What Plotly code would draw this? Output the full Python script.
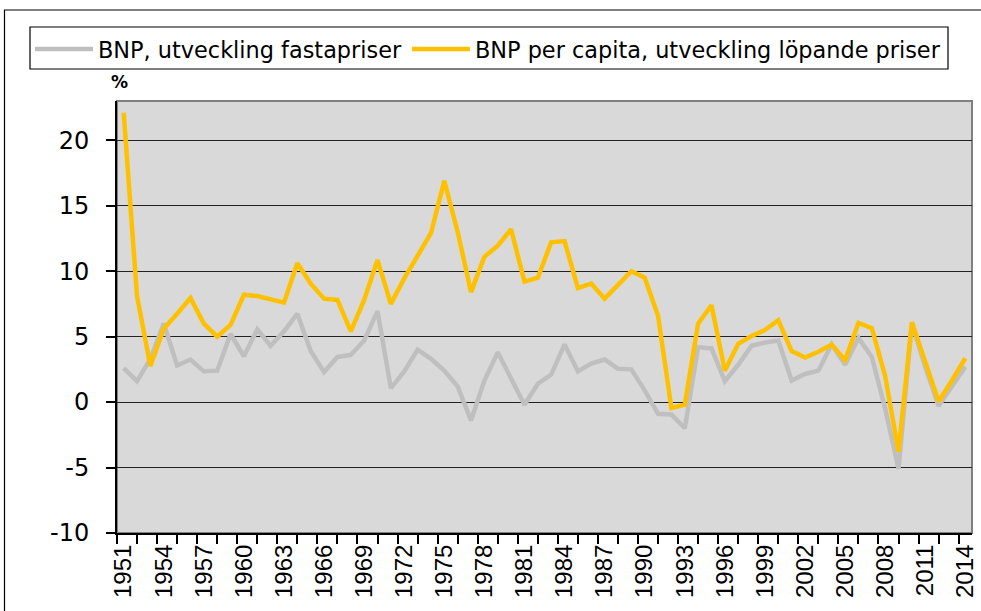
import plotly.graph_objects as go

years = list(range(1951, 2015))

bnp_fasta = [2.6, 1.6, 3.3, 6.0, 2.8, 3.25, 2.35, 2.4, 5.2, 3.5,
             5.55, 4.3, 5.4, 6.75, 3.9, 2.3, 3.45, 3.6, 4.7, 6.95,
             1.07, 2.35, 4.0, 3.3, 2.4, 1.2, -1.4, 1.65, 3.8, 1.8,
             -0.2, 1.4, 2.1, 4.4, 2.35, 2.95, 3.25, 2.55, 2.5, 0.9,
             -0.9, -0.95, -2.0, 4.2, 4.1, 1.6, 2.85, 4.3, 4.55, 4.7,
             1.65, 2.15, 2.4, 4.4, 2.85, 4.9, 3.45, -0.5, -5.1, 6.0,
             2.7, -0.3, 1.2, 2.7]

bnp_capita = [22.1, 8.1, 2.75, 5.6, 6.75, 7.95, 6.0, 5.0, 5.9, 8.2,
              8.1, 7.85, 7.6, 10.6, 9.05, 7.9, 7.8, 5.4, 7.8, 10.85,
              7.5, 9.45, 11.2, 12.9, 16.9, 13.0, 8.4, 11.1, 11.95, 13.2,
              9.2, 9.5, 12.2, 12.3, 8.7, 9.05, 7.9, 8.9, 10.0, 9.5,
              6.6, -0.45, -0.2, 6.0, 7.4, 2.4, 4.45, 5.05, 5.5, 6.25,
              3.9, 3.4, 3.85, 4.4, 3.2, 6.05, 5.65, 2.0, -3.8, 6.1,
              3.05, 0.05, 1.65, 3.35]

label_years = list(range(1951, 2015, 3))
y_ticks = [-10, -5, 0, 5, 10, 15, 20]
y_labels = ["-10", "-5", "0", "5", "10", "15", "20"]

FONT = "Liberation Sans, Arial, sans-serif"
WIDE = "DejaVu Sans, Verdana, sans-serif"

fig = go.Figure()
fig.add_trace(go.Scatter(x=years, y=bnp_fasta, mode="lines",
                         name="BNP, utveckling fastapriser",
                         line=dict(color="#BFBFBF", width=4.5)))
fig.add_trace(go.Scatter(x=years, y=bnp_capita, mode="lines",
                         name="BNP per capita, utveckling löpande priser",
                         line=dict(color="#FFC000", width=4.5)))

L, R, T, B = 117, 9, 101, 78
W, H = 981, 611
pw, ph = W - L - R, H - T - B

def px(xp):
    return (xp - L) / pw

def py(yp):
    return (H - B - yp) / ph

fig.update_layout(
    width=W, height=H,
    margin=dict(l=L, r=R, t=T, b=B, pad=0, autoexpand=False),
    paper_bgcolor="white",
    plot_bgcolor="#D9D9D9",
    font=dict(family=FONT, size=22, color="black"),
    showlegend=True,
    legend=dict(orientation="h", x=px(30), y=py(28), xanchor="left", yanchor="top",
                bgcolor="rgba(0,0,0,0)", borderwidth=0,
                font=dict(family=WIDE, size=22.4, color="black"),
                itemwidth=58, tracegroupgap=0),
    xaxis=dict(range=[1950.5, 2014.5], tickmode="array", tickvals=label_years,
               ticktext=[str(y) for y in label_years], tickangle=-90,
               ticks="", showgrid=False, zeroline=False, automargin=False,
               showline=True, linecolor="black", linewidth=2,
               tickfont=dict(family=FONT, size=24, color="black"),
               minor=dict(tickmode="linear", tick0=1950.5, dtick=1.5, ticks="outside",
                          ticklen=9, tickcolor="black", tickwidth=1.5, showgrid=False)),
    yaxis=dict(range=[-10, 23], tickmode="array", tickvals=y_ticks, ticktext=y_labels,
               ticks="outside", ticklen=9, tickcolor="black", tickwidth=1.5,
               ticklabelstandoff=12,
               showgrid=True, gridcolor="#222222", gridwidth=1.3, zeroline=False,
               showline=True, linecolor="black", linewidth=2, automargin=False,
               tickfont=dict(family=WIDE, size=24, color="black")),
    shapes=[
        dict(type="rect", xref="paper", yref="paper", x0=0, x1=1, y0=0, y1=1,
             line=dict(color="#808080", width=2), layer="below"),
        dict(type="rect", xref="paper", yref="paper", x0=px(30), x1=px(948),
             y0=py(69), y1=py(27), line=dict(color="black", width=1.2)),
        dict(type="rect", xref="paper", yref="paper", x0=px(4.5), x1=px(995),
             y0=py(625), y1=py(10), line=dict(color="black", width=1.2)),
    ],
    annotations=[
        dict(text="<b>%</b>", xref="paper", yref="paper", x=px(119), y=py(82),
             showarrow=False, font=dict(family=WIDE, size=17, color="black"),
             xanchor="center", yanchor="middle"),
    ],
)

fig.write_html("out.html", config={"displayModeBar": False},
               post_script="document.body.style.margin='0px';")
